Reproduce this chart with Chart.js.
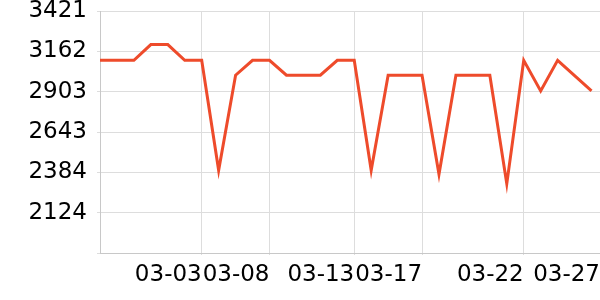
<!DOCTYPE html>
<html>
<head>
<meta charset="utf-8">
<script src="https://cdn.jsdelivr.net/npm/chart.js@4/dist/chart.umd.min.js"></script>
<style>
  html, body { margin: 0; padding: 0; background: #fff; }
  #wrap { width: 600px; height: 300px; }
</style>
</head>
<body>
<div id="wrap"><canvas id="chart"></canvas></div>
<script>
// one value per day slot
var values = [
    3104, 3104, 3104, 3205, 3205, 3104, 3104, 2397, 3008, 3104,
    3104, 3008, 3008, 3008, 3104, 3104, 2397, 3008, 3008, 3008,
    2371, 3008, 3008, 3008, 2311, 3104, 2907, 3104, 3005, 2907
];
// x axis ticks: slot position and its label
var tickSlots  = [6, 10, 15, 19, 25, 29.5];
var tickLabels = ['03-03', '03-08', '03-13', '03-17', '03-22', '03-27'];
var yTicks = [1865, 2124, 2384, 2643, 2903, 3162, 3421];

var points = values.map(function(v, i) { return { x: i, y: v }; });
var font = { family: 'DejaVu Sans', size: 23 };

new Chart(document.getElementById('chart').getContext('2d'), {
    type: 'line',
    data: {
        datasets: [{
            data: points,
            borderColor: '#ee4b2b',
            borderWidth: 3,
            pointRadius: 0,
            tension: 0,
            fill: false
        }]
    },
    options: {
        responsive: true,
        maintainAspectRatio: false,
        animation: false,
        layout: { padding: { top: 11, right: 0, left: 0, bottom: 0 } },
        plugins: { legend: { display: false }, tooltip: { enabled: false } },
        scales: {
            x: {
                type: 'linear',
                min: 0,
                max: 29.5,
                border: { color: '#c8c8c8' },
                grid: {
                    tickLength: 2,
                    color: function(ctx) {
                        return ctx.tick && ctx.tick.value === 29.5 ? 'rgba(0,0,0,0)' : '#dddddd';
                    }
                },
                afterBuildTicks: function(scale) {
                    scale.ticks = tickSlots.map(function(v) { return { value: v }; });
                },
                ticks: {
                    autoSkip: false,
                    maxRotation: 0,
                    align: 'end',
                    padding: 6,
                    color: '#000',
                    font: font,
                    callback: function(val) {
                        var k = tickSlots.indexOf(val);
                        return k >= 0 ? tickLabels[k] : '';
                    }
                },
                afterFit: function(scale) {
                    scale.height = 47;
                    scale.paddingLeft = 0;
                    scale.paddingRight = 0;
                }
            },
            y: {
                min: 1865,
                max: 3421,
                border: { color: '#c8c8c8' },
                grid: { color: '#dddddd', tickLength: 3 },
                afterBuildTicks: function(scale) {
                    scale.ticks = yTicks.map(function(v) { return { value: v }; });
                },
                ticks: {
                    padding: 10,
                    color: '#000',
                    font: font,
                    callback: function(v) { return v === 1865 ? '' : v; }
                },
                afterFit: function(scale) {
                    scale.width = 100;
                    scale.paddingTop = 0;
                    scale.paddingBottom = 0;
                }
            }
        }
    }
});
</script>
</body>
</html>
